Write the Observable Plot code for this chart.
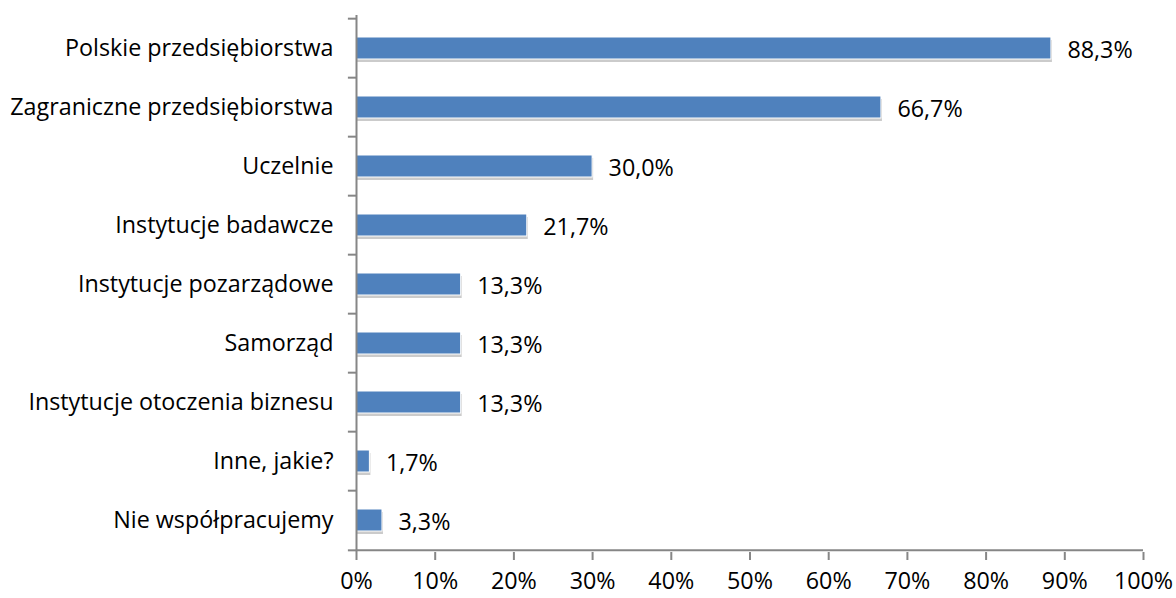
<!DOCTYPE html>
<html>
<head>
<meta charset="utf-8">
<script src="https://cdn.jsdelivr.net/npm/d3@7"></script>
<script src="https://cdn.jsdelivr.net/npm/@observablehq/plot@0.6"></script>
<style>
  html, body { margin: 0; padding: 0; background: #fff; }
  #chart { width: 1176px; height: 598px; }
</style>
</head>
<body>
<div id="chart"></div>
<script>
const categories = [
  "Polskie przedsiębiorstwa",
  "Zagraniczne przedsiębiorstwa",
  "Uczelnie",
  "Instytucje badawcze",
  "Instytucje pozarządowe",
  "Samorząd",
  "Instytucje otoczenia biznesu",
  "Inne, jakie?",
  "Nie współpracujemy"
];
const values = [88.3, 66.7, 30.0, 21.7, 13.3, 13.3, 13.3, 1.7, 3.3];
const xTicks = [0, 10, 20, 30, 40, 50, 60, 70, 80, 90, 100];

const data = categories.map((c, i) => ({category: c, value: values[i]}));
const fmt = v => v.toFixed(1).replace(".", ",") + "%";

const W = 1176, H = 598;
const mTop = 15, mBottom = 46, mLeft = 356, mRight = 33;
const step = (H - mTop - mBottom) / categories.length;
const axisColor = "#868686";
const font = "'Open Sans', sans-serif";
const fs = 23.3;
const pad = 0.63;

const chart = Plot.plot({
  width: W,
  height: H,
  marginTop: mTop,
  marginBottom: mBottom,
  marginLeft: mLeft,
  marginRight: mRight,
  style: {fontFamily: font, fontSize: fs + "px", color: "#000", background: "#fff", overflow: "visible"},
  x: {domain: [0, 100], ticks: xTicks, tickFormat: d => d + "%", label: null},
  y: {domain: categories, paddingInner: pad, paddingOuter: pad / 2, align: 0.5, label: null},
  marks: [
    // bar shadows
    Plot.barX(data, {x: "value", y: "category", fill: "#8c8c8c", fillOpacity: 0.45, dy: 3, dx: 1}),
    Plot.barX(data, {x: "value", y: "category", fill: "#4f81bd", stroke: "#ffffff", strokeWidth: 1}),
    // value labels
    Plot.text(data, {x: "value", y: "category", text: d => fmt(d.value), textAnchor: "start", dx: 16, dy: 2, fill: "#000", fontSize: fs}),
    // y axis line
    Plot.ruleX([0], {stroke: axisColor, strokeWidth: 2}),
    // y ticks at band boundaries
    Plot.ruleY(categories, {y: d => d, x1: -1.03, x2: 0, dy: -step / 2, stroke: axisColor, strokeWidth: 2}),
    Plot.ruleY([categories[categories.length - 1]], {y: d => d, x1: -1.03, x2: 0, dy: step / 2, stroke: axisColor, strokeWidth: 2}),
    // y labels
    Plot.axisY({tickSize: 0, tickPadding: 23, fontSize: fs, fill: "#000"}),
    // x axis
    Plot.ruleY([categories[categories.length - 1]], {y: d => d, x1: 0, x2: 100, dy: step / 2, stroke: axisColor, strokeWidth: 2}),
    Plot.axisX({ticks: xTicks, tickFormat: d => d + "%", tickSize: 8, tickPadding: 12, stroke: axisColor, strokeWidth: 2, fontSize: fs, fill: "#000"})
  ]
});
document.getElementById("chart").appendChild(chart);
</script>
</body>
</html>
